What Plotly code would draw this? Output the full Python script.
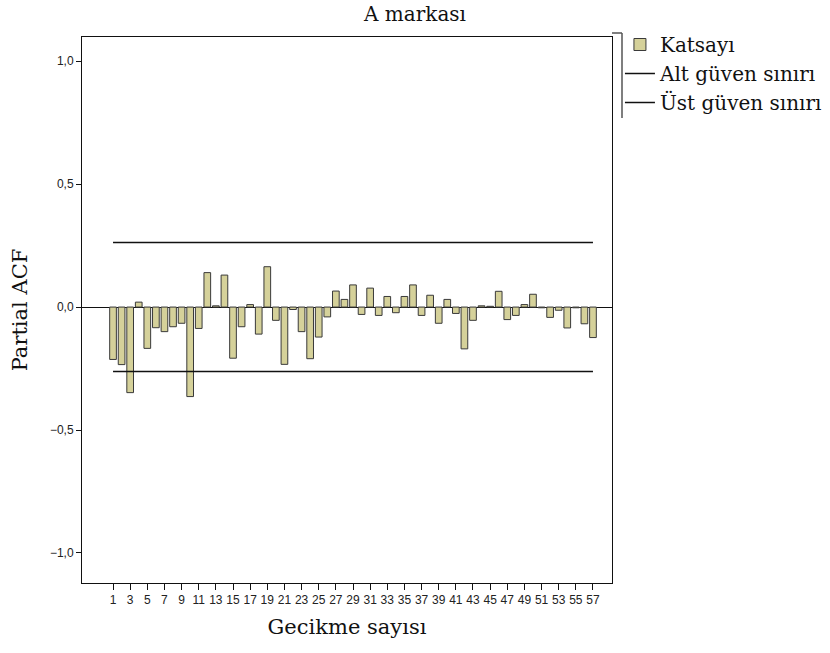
import plotly.graph_objects as go

lags = list(range(1, 58))
pacf = [
    -0.213, -0.234, -0.348, 0.020, -0.168, -0.084, -0.100, -0.080, -0.066, -0.364,
    -0.087, 0.140, 0.005, 0.130, -0.208, -0.080, 0.010, -0.110, 0.164, -0.054,
    -0.233, -0.010, -0.100, -0.210, -0.122, -0.040, 0.065, 0.031, 0.090, -0.030,
    0.077, -0.034, 0.043, -0.023, 0.043, 0.090, -0.034, 0.048, -0.066, 0.031,
    -0.026, -0.170, -0.054, 0.005, 0.003, 0.064, -0.051, -0.034, 0.010, 0.052,
    -0.003, -0.042, -0.013, -0.085, -0.003, -0.068, -0.124,
]
conf_limit = 0.262
conf_x = [lags[0], lags[-1]]
x_tick_vals = lags[::2]
y_tick_vals = [-1.0, -0.5, 0.0, 0.5, 1.0]

serif = "DejaVu Serif"
sans = "Liberation Sans, Arial, sans-serif"

fig = go.Figure()
fig.add_trace(go.Bar(
    x=lags, y=pacf, name="Katsayı", width=0.78,
    marker=dict(color="#D5D19A", line=dict(color="#3a3a3a", width=1)),
))
fig.add_trace(go.Scatter(
    x=conf_x, y=[-conf_limit, -conf_limit], mode="lines", name="Alt güven sınırı",
    line=dict(color="#111111", width=1.5),
))
fig.add_trace(go.Scatter(
    x=conf_x, y=[conf_limit, conf_limit], mode="lines", name="Üst güven sınırı",
    line=dict(color="#111111", width=1.5),
))

fig.update_layout(
    width=830, height=653,
    margin=dict(l=82, r=218, t=37, b=70, autoexpand=False),
    paper_bgcolor="white", plot_bgcolor="white",
    separators=",.",
    bargap=0.2,
    title=dict(text="A markası", x=0.5, xref="container", xanchor="center",
               y=1 - 14 / 653, yanchor="middle",
               font=dict(family=serif, size=20, color="#111111")),
    showlegend=True,
    legend=dict(x=1.015, xanchor="left", y=1.0 + 12 / 546, yanchor="top",
                font=dict(family=serif, size=20, color="#111111"),
                bgcolor="rgba(0,0,0,0)", tracegroupgap=0, itemwidth=30),
    xaxis=dict(
        range=[-2.62, 59.22], tickmode="array", tickvals=x_tick_vals,
        ticks="outside", ticklen=6, tickcolor="#111111",
        tickfont=dict(family=sans, size=12, color="#222222"),
        showgrid=False, zeroline=False,
        showline=True, linecolor="#111111", linewidth=1, mirror=True,
        title=dict(text="Gecikme sayısı", font=dict(family=serif, size=21, color="#111111"),
                   standoff=12),
    ),
    yaxis=dict(
        range=[-1.122, 1.098], tickmode="array", tickvals=y_tick_vals, tickformat=".1f",
        ticks="outside", ticklen=5, tickcolor="#111111",
        tickfont=dict(family=sans, size=12, color="#222222"),
        showgrid=False, zeroline=True, zerolinecolor="#111111", zerolinewidth=1,
        showline=True, linecolor="#111111", linewidth=1, mirror=True,
        title=dict(text="Partial ACF", font=dict(family=serif, size=21, color="#111111"),
                   standoff=16),
    ),
)

# legend bracket (frame edge at the right of the plot)
fig.add_shape(type="line", xref="paper", yref="paper",
              x0=(622 - 82) / 530, x1=(622 - 82) / 530,
              y0=(583 - 33) / 546, y1=(583 - 118) / 546,
              line=dict(color="#555555", width=1.5))
fig.add_shape(type="line", xref="paper", yref="paper",
              x0=(612 - 82) / 530, x1=(622 - 82) / 530,
              y0=(583 - 33) / 546, y1=(583 - 33) / 546,
              line=dict(color="#555555", width=1.5))

fig.write_html("out.html")
